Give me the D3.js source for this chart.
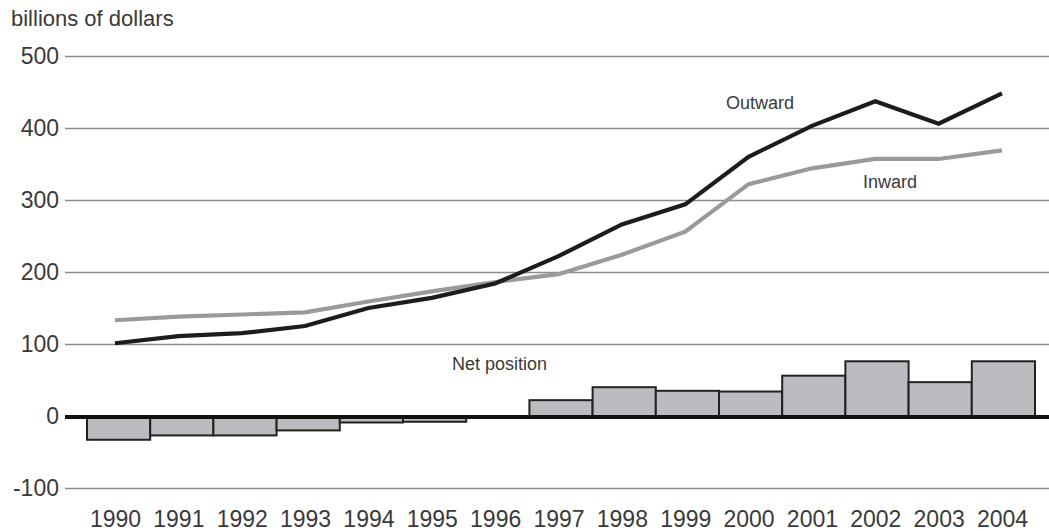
<!DOCTYPE html>
<html>
<head>
<meta charset="utf-8">
<script src="https://cdn.jsdelivr.net/npm/d3@7"></script>
<style>
  html, body { margin: 0; padding: 0; background: #fff; }
  svg { display: block; }
  text { font-family: "Liberation Sans", Arial, Helvetica, sans-serif; fill: #3a3a3a; }
</style>
</head>
<body>
<svg id="chart" width="1049" height="531"></svg>
<script>
// ---- data ----
const years = ["1990","1991","1992","1993","1994","1995","1996","1997","1998","1999","2000","2001","2002","2003","2004"];
const outward = [101, 111, 115, 125, 150, 164, 184, 222, 266, 294, 360, 403, 437, 406, 448];
const inward  = [133, 138, 141, 144, 159, 173, 186, 197, 224, 256, 322, 344, 357, 357, 369];
const netPosition = [-33, -27, -27, -20, -9, -8, -1, 22, 40, 35, 34, 56, 76, 47, 76];
const yTicks = [500, 400, 300, 200, 100, 0, -100];
const unitLabel = "billions of dollars";
const seriesLabels = ["Outward", "Inward", "Net position"];

// ---- layout ----
const W = 1049, H = 531;
const svg = d3.select("#chart");
const gridLeft = 65;
const FONT = '"Liberation Sans", Arial, Helvetica, sans-serif';

const y = d3.scaleLinear().domain([-100, 500]).range([488, 56]);
const xBand = d3.scaleBand().domain(years).range([87, 1035]).paddingInner(0).paddingOuter(0);
const xPoint = d3.scalePoint().domain(years).range([115, 1002]).padding(0);

// gridlines + y labels
const yAxis = d3.axisLeft(y).tickValues(yTicks).tickSize(-(W - gridLeft)).tickPadding(6).tickFormat(d => String(d));
const gy = svg.append("g").attr("transform", `translate(${gridLeft},0)`).call(yAxis);
gy.select(".domain").remove();
gy.selectAll(".tick line").attr("stroke", "#8c8c8c").attr("stroke-width", 1.5);
gy.selectAll(".tick text").attr("font-size", 23).attr("fill", "#3a3a3a").attr("dy", "0.31em")
  .style("font-family", FONT);

// unit label
svg.append("text").attr("x", 11).attr("y", 26).attr("font-size", 22).text(unitLabel);

// bars
svg.append("g").selectAll("rect").data(years).join("rect")
  .attr("x", d => xBand(d))
  .attr("width", xBand.bandwidth())
  .attr("y", (d, i) => Math.min(y(0), y(netPosition[i])))
  .attr("height", (d, i) => Math.abs(y(netPosition[i]) - y(0)))
  .attr("fill", "#bbbcbf")
  .attr("stroke", "#222")
  .attr("stroke-width", 2);

// zero line
svg.append("line")
  .attr("x1", gridLeft).attr("x2", W)
  .attr("y1", y(0) + 1).attr("y2", y(0) + 1)
  .attr("stroke", "#111").attr("stroke-width", 4);

// lines
const line = d3.line().x((d, i) => xPoint(years[i])).y(d => y(d));
svg.append("path").datum(inward).attr("d", line)
  .attr("fill", "none").attr("stroke", "#999a9c").attr("stroke-width", 4.2).attr("stroke-linejoin", "miter");
svg.append("path").datum(outward).attr("d", line)
  .attr("fill", "none").attr("stroke", "#1c1c1c").attr("stroke-width", 4.2).attr("stroke-linejoin", "miter");

// series labels
svg.append("text").attr("x", 726).attr("y", 109).attr("font-size", 18).text(seriesLabels[0]);
svg.append("text").attr("x", 863).attr("y", 188).attr("font-size", 18).text(seriesLabels[1]);
svg.append("text").attr("x", 452).attr("y", 370).attr("font-size", 18).text(seriesLabels[2]);

// x axis labels
const xAxis = d3.axisBottom(xPoint).tickSize(0).tickPadding(0);
const gx = svg.append("g").call(xAxis);
gx.select(".domain").remove();
gx.selectAll(".tick line").remove();
gx.selectAll(".tick text").attr("y", 527).attr("dy", 0).attr("font-size", 23).attr("fill", "#3a3a3a")
  .style("font-family", FONT);
</script>
</body>
</html>
